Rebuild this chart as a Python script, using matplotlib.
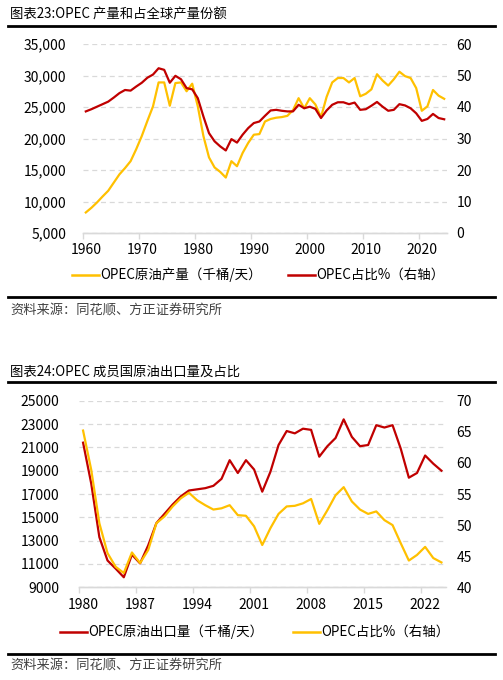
import matplotlib
matplotlib.use("Agg")
import matplotlib.pyplot as plt
from matplotlib.lines import Line2D
from matplotlib.ticker import FuncFormatter, FixedLocator

plt.rcParams['font.family'] = ['Noto Sans CJK SC', 'DejaVu Sans']
plt.rcParams['axes.unicode_minus'] = False

# =========================
# 数据 (图表23)
# =========================
years_prod = list(range(1960, 2025))
opec_prod = [
    8260, 9000, 9850, 10800, 11700, 13000, 14300, 15300, 16400, 18300,
    20400, 22800, 25100, 28900, 28900, 25200, 28800, 28900, 27500, 28700,
    25100, 20400, 17000, 15400, 14700, 13800, 16400, 15600, 17700, 19300,
    20600, 20700, 22700, 23100, 23300, 23400, 23600, 24500, 26400, 24800,
    26400, 25400, 23400, 26600, 28900, 29600, 29600, 28900, 29600, 26700,
    27100, 27800, 30200, 29200, 28400, 29400, 30600, 29900, 29600, 28000,
    24400, 25100, 27700, 26800, 26300,
]
opec_share = [
    38.6, 39.3, 40.1, 40.9, 41.7, 43.0, 44.4, 45.4, 45.2, 46.5,
    47.7, 49.3, 50.3, 52.3, 51.8, 47.7, 49.9, 48.8, 46.0, 45.6,
    42.8, 37.0, 31.7, 29.1, 27.5, 26.2, 29.8, 28.7, 31.2, 33.3,
    34.9, 35.4, 37.2, 38.9, 39.1, 38.8, 38.6, 38.6, 40.7, 39.6,
    40.1, 39.4, 36.5, 38.9, 40.7, 41.5, 41.5, 40.9, 41.4, 39.1,
    39.3, 40.4, 41.6, 40.1, 38.8, 39.1, 40.9, 40.5, 39.6, 38.0,
    35.6, 36.2, 37.8, 36.5, 36.1,
]
prod_xticks = [1960, 1970, 1980, 1990, 2000, 2010, 2020]

# =========================
# 数据 (图表24)
# =========================
years_exp = list(range(1980, 2025))
opec_export = [
    21400, 17900, 13300, 11300, 10600, 9860, 11800, 11050, 12600, 14500,
    15300, 16100, 16800, 17300, 17400, 17500, 17700, 18300, 19900, 18800,
    19900, 19100, 17200, 18900, 21200, 22400, 22200, 22600, 22500, 20200,
    21100, 21800, 23400, 21900, 21100, 21200, 22900, 22700, 22900, 20900,
    18400, 18800, 20300, 19600, 19000,
]
export_share = [
    65.2, 58.9, 50.3, 45.5, 43.3, 42.3, 45.6, 43.9, 46.0, 50.3,
    51.4, 53.0, 54.3, 55.2, 54.0, 53.2, 52.5, 52.7, 53.2, 51.6,
    51.5, 49.8, 46.8, 49.5, 51.8, 53.0, 53.1, 53.5, 54.2, 50.2,
    52.4, 54.8, 56.1, 53.8, 52.5, 51.8, 52.2, 50.8, 50.0, 47.1,
    44.3, 45.2, 46.5, 44.7, 44.0,
]
exp_xticks = [1980, 1987, 1994, 2001, 2008, 2015, 2022]

RED = '#C00000'
YELLOW = '#FFC000'
GRID = '#D9D9D9'
W, H = 503, 680


def fx(px):
    return px / W


def fy(py):
    return 1 - py / H


def style_axes(ax, ax2, xticks, x0, x1, lpad, rpad, xpad):
    for a in (ax, ax2):
        for s in ('left', 'right', 'top'):
            a.spines[s].set_visible(False)
        a.spines['bottom'].set_color(GRID)
        a.spines['bottom'].set_linewidth(1.0)
    ax.set_xlim(x0 - 0.5, x1 + 0.5)
    ax.set_xticks(xticks)
    ax.xaxis.set_minor_locator(FixedLocator([t - 0.5 for t in xticks]))
    ax.tick_params(axis='x', which='major', length=0, pad=xpad, labelsize=10)
    ax.tick_params(axis='x', which='minor', length=4, color=GRID, width=1.0)
    ax.tick_params(axis='y', length=0, pad=lpad, labelsize=10)
    ax2.tick_params(axis='y', length=0, pad=rpad, labelsize=10)
    ax.grid(axis='y', color=GRID, linestyle=(0, (4, 3)), linewidth=0.9)
    ax.set_axisbelow(True)


def header(title, y_title, y_rule):
    fig.text(fx(10), fy(y_title), title, fontsize=9.6, va='center', ha='left')
    fig.add_artist(Line2D([fx(8), fx(495)], [fy(y_rule), fy(y_rule)],
                          transform=fig.transFigure, color='black', lw=2))


def footer(y_rule, y_text):
    fig.add_artist(Line2D([fx(8), fx(495)], [fy(y_rule), fy(y_rule)],
                          transform=fig.transFigure, color='black', lw=2))
    fig.text(fx(10), fy(y_text), '资料来源：同花顺、方正证券研究所', fontsize=9.5,
             va='center', ha='left', color='#404040', style='italic')


def legend_item(x_line, y, color, label):
    fig.add_artist(Line2D([fx(x_line), fx(x_line + 27)], [fy(y), fy(y)],
                          transform=fig.transFigure, color=color, lw=1.8))
    fig.text(fx(x_line + 28), fy(y), label, fontsize=9.7, va='center', ha='left')


fig = plt.figure(figsize=(W / 100, H / 100), dpi=100)

# ---------- 图表23 ----------
header('图表23:OPEC 产量和占全球产量份额', 15, 26)
ax = fig.add_axes([fx(83), fy(233), fx(447) - fx(83), (233 - 44) / H])
ax2 = ax.twinx()
ax.plot(years_prod, opec_prod, color=YELLOW, lw=1.6)
ax2.plot(years_prod, opec_share, color=RED, lw=1.6)
ax.set_ylim(5000, 35000)
ax.set_yticks(range(5000, 35001, 5000))
ax.yaxis.set_major_formatter(FuncFormatter(lambda v, p: f'{int(v):,}'))
ax2.set_ylim(0, 60)
ax2.set_yticks(range(0, 61, 10))
style_axes(ax, ax2, prod_xticks, 1960, 2024, 12, 7, 7)
legend_item(72, 275, YELLOW, 'OPEC原油产量（千桶/天）')
legend_item(288, 275, RED, 'OPEC占比%（右轴）')
footer(297, 310)

# ---------- 图表24 ----------
header('图表24:OPEC 成员国原油出口量及占比', 372, 382)
bx = fig.add_axes([fx(79), fy(587.3), fx(445.5) - fx(79), (587.3 - 400.7) / H])
bx2 = bx.twinx()
bx.plot(years_exp, opec_export, color=RED, lw=1.6)
bx2.plot(years_exp, export_share, color=YELLOW, lw=1.6)
bx.set_ylim(9000, 25000)
bx.set_yticks(range(9000, 25001, 2000))
bx2.set_ylim(40, 70)
bx2.set_yticks(range(40, 71, 5))
style_axes(bx, bx2, exp_xticks, 1980, 2024, 14, 8, 8)
legend_item(60, 632, RED, 'OPEC原油出口量（千桶/天）')
legend_item(293, 632, YELLOW, 'OPEC占比%（右轴）')
footer(654, 665)

fig.savefig('out.png', dpi=100, facecolor='white')
